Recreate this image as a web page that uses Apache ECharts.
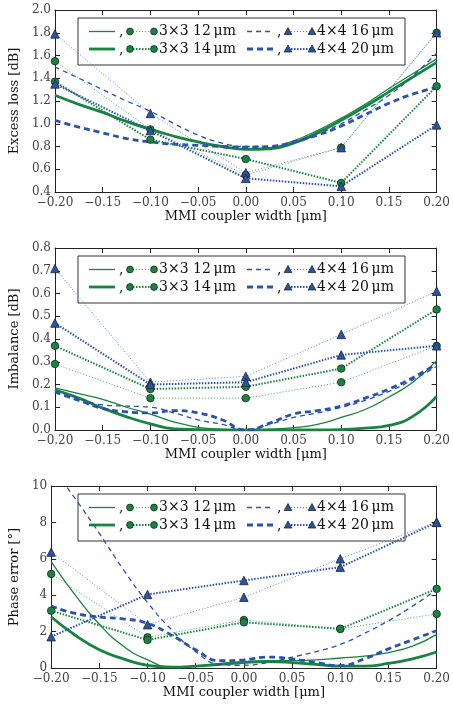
<!DOCTYPE html>
<html>
<head>
<meta charset="UTF-8">
<title>MMI coupler width</title>
<script src="https://cdn.jsdelivr.net/npm/echarts@6/dist/echarts.min.js"></script>
<style>
  html, body { margin: 0; padding: 0; background: #fff; }
  #chart { width: 453px; height: 705px; }
</style>
</head>
<body>
<div id="chart"></div>
<script>
// coupler width offsets [um]
var widths = [-0.2, -0.175, -0.15, -0.125, -0.1, -0.075, -0.05, -0.025, 0, 0.025, 0.05, 0.075, 0.1, 0.125, 0.15, 0.175, 0.2];
var measWidths = [-0.2, -0.1, 0, 0.1, 0.2];
var legendNames = ['3\u00d73 12\u2009\u03bcm', '3\u00d73 14\u2009\u03bcm', '4\u00d74 16\u2009\u03bcm', '4\u00d74 20\u2009\u03bcm'];

// excess loss [dB]
var lossSim12 = [1.25, 1.17, 1.10, 1.02, 0.96, 0.89, 0.84, 0.80, 0.78, 0.79, 0.85, 0.94, 1.05, 1.17, 1.31, 1.44, 1.57];
var lossSim14 = [1.25, 1.17, 1.10, 1.02, 0.95, 0.89, 0.84, 0.80, 0.775, 0.78, 0.83, 0.92, 1.03, 1.15, 1.28, 1.41, 1.54];
var lossSim16 = [1.50, 1.40, 1.30, 1.20, 1.11, 1.00, 0.90, 0.83, 0.80, 0.80, 0.83, 0.91, 1.00, 1.12, 1.25, 1.42, 1.62];
var lossSim20 = [1.03, 0.97, 0.92, 0.87, 0.84, 0.82, 0.81, 0.80, 0.795, 0.80, 0.84, 0.90, 0.98, 1.08, 1.18, 1.26, 1.32];
var lossMeas12 = [1.55, 0.95, 0.55, 0.79, 1.80];
var lossMeas14 = [1.37, 0.86, 0.69, 0.48, 1.33];
var lossMeas16 = [1.79, 1.09, 0.57, 0.79, 1.80];
var lossMeas20 = [1.35, 0.94, 0.52, 0.45, 0.99];

// imbalance [dB]
var imbSim12 = [0.185, 0.16, 0.135, 0.10, 0.07, 0.035, 0.012, 0.003, 0.0, 0.003, 0.01, 0.025, 0.055, 0.09, 0.145, 0.21, 0.305];
var imbSim14 = [0.177, 0.14, 0.096, 0.058, 0.027, 0.005, 0.002, 0.0, 0.0, 0.0, 0.0, 0.0, 0.002, 0.008, 0.02, 0.06, 0.148];
var imbSim16 = [0.17, 0.14, 0.11, 0.105, 0.10, 0.075, 0.045, 0.025, 0.0, 0.025, 0.055, 0.075, 0.10, 0.13, 0.17, 0.22, 0.28];
var imbSim20 = [0.167, 0.13, 0.095, 0.08, 0.075, 0.085, 0.075, 0.045, 0.0, 0.03, 0.07, 0.085, 0.105, 0.14, 0.18, 0.23, 0.29];
var imbMeas12 = [0.29, 0.14, 0.14, 0.21, 0.37];
var imbMeas14 = [0.37, 0.18, 0.19, 0.27, 0.53];
var imbMeas16 = [0.71, 0.21, 0.236, 0.42, 0.61];
var imbMeas20 = [0.47, 0.20, 0.21, 0.33, 0.37];

// phase error [deg]
var phSim12 = [5.85, 4.0, 2.4, 1.2, 0.45, 0.05, 0.1, 0.25, 0.35, 0.4, 0.4, 0.45, 0.55, 0.65, 0.85, 1.2, 1.85];
var phSim14 = [2.8, 1.8, 1.0, 0.5, 0.15, 0.05, 0.1, 0.2, 0.3, 0.35, 0.3, 0.2, 0.1, 0.1, 0.25, 0.5, 0.88];
var phSim16 = [11.1, 9.3, 7.4, 5.4, 3.6, 2.1, 0.9, 0.2, 0.15, 0.3, 0.6, 0.9, 1.3, 1.9, 2.6, 3.4, 4.3];
var phSim20 = [3.4, 3.0, 2.8, 2.7, 2.45, 1.8, 1.0, 0.4, 0.45, 0.6, 0.5, 0.3, 0.13, 0.5, 1.05, 1.55, 2.05];
var phMeas12 = [5.17, 1.69, 2.64, 2.15, 2.97];
var phMeas14 = [3.15, 1.54, 2.51, 2.15, 4.35];
var phMeas16 = [6.37, 2.38, 3.89, 6.0, 8.02];
var phMeas20 = [1.72, 4.04, 4.81, 5.54, 8.0];

var GREEN = '#17853f';
var BLUE = '#2b52ad';
var GREEN_LT = '#4fa56c';
var BLUE_LT = '#5f83cf';
var FONT = 'DejaVu Serif';

var panels = [
  { top: 10, name: 'Excess loss [dB]', min: 0.4, max: 2.0, step: 0.2, dec: 1,
    sim: [lossSim12, lossSim14, lossSim16, lossSim20], meas: [lossMeas12, lossMeas14, lossMeas16, lossMeas20] },
  { top: 248, name: 'Imbalance [dB]', min: 0, max: 0.8, step: 0.1, dec: 1,
    sim: [imbSim12, imbSim14, imbSim16, imbSim20], meas: [imbMeas12, imbMeas14, imbMeas16, imbMeas20] },
  { top: 486, name: 'Phase error [\u00b0]', min: 0, max: 10, step: 2, dec: 0,
    sim: [phSim12, phSim14, phSim16, phSim20], meas: [phMeas12, phMeas14, phMeas16, phMeas20] }
];
var H = 182;

function pairs(xv, yv) {
  return xv.map(function (x, i) { return [x, yv[i]]; });
}

var simStyle = [
  { color: GREEN, width: 1.3, type: 'solid' },
  { color: GREEN, width: 2.8, type: 'solid' },
  { color: BLUE, width: 1.3, type: [5, 4] },
  { color: BLUE, width: 2.8, type: [6, 4] }
];
var measStyle = [
  { color: GREEN_LT, width: 1, type: [1, 2], sym: 'circle', fill: GREEN },
  { color: GREEN, width: 2, type: [1.5, 1.5], sym: 'circle', fill: GREEN },
  { color: BLUE_LT, width: 1, type: [1, 2], sym: 'triangle', fill: BLUE },
  { color: BLUE, width: 2, type: [1.5, 1.5], sym: 'triangle', fill: BLUE }
];

var grids = [], xAxes = [], yAxes = [], series = [], graphics = [];
var lineCol = '#222';
var tickStyle = { show: true, inside: true, length: 5, lineStyle: { color: lineCol } };

panels.forEach(function (p, g) {
  grids.push({ left: 48, right: 15, top: p.top, height: H });
  var xBase = { gridIndex: g, type: 'value', min: -0.2, max: 0.2, interval: 0.05,
    axisLine: { show: true, onZero: false, lineStyle: { color: lineCol } },
    axisTick: tickStyle, splitLine: { show: false } };
  xAxes.push(Object.assign({}, xBase, {
    position: 'bottom',
    name: 'MMI coupler width [\u03bcm]', nameLocation: 'middle', nameGap: 15,
    nameTextStyle: { fontFamily: FONT, fontSize: 13, color: '#111' },
    axisLabel: { margin: 5, fontFamily: FONT, fontSize: 12, color: '#444',
      formatter: function (v) {
        if (Math.abs(v) < 1e-9) return '0.00';
        return v.toFixed(2).replace('-', '\u2212');
      } }
  }));
  xAxes.push(Object.assign({}, xBase, { position: 'top', axisLabel: { show: false } }));
  var yBase = { gridIndex: g, type: 'value', min: p.min, max: p.max, interval: p.step,
    axisLine: { show: true, onZero: false, lineStyle: { color: lineCol } },
    axisTick: tickStyle, splitLine: { show: false } };
  yAxes.push(Object.assign({}, yBase, {
    position: 'left',
    name: p.name, nameLocation: 'middle', nameGap: 26,
    nameTextStyle: { fontFamily: FONT, fontSize: 13, color: '#111' },
    axisLabel: { margin: 4, fontFamily: FONT, fontSize: 12, color: '#444',
      formatter: function (v) { return v.toFixed(p.dec); } }
  }));
  yAxes.push(Object.assign({}, yBase, { position: 'right', axisLabel: { show: false } }));

  var xi = g * 2, yi = g * 2;
  p.meas.forEach(function (m, k) {
    var s = measStyle[k];
    series.push({
      type: 'line', xAxisIndex: xi, yAxisIndex: yi,
      data: pairs(measWidths, m),
      symbol: s.sym, symbolSize: s.sym === 'circle' ? 7.5 : 8.5,
      showSymbol: true,
      lineStyle: { color: s.color, width: s.width, type: s.type },
      itemStyle: { color: s.fill, borderColor: '#1b2a22', borderWidth: 0.8 },
      z: 3, silent: true, animation: false
    });
  });
  p.sim.forEach(function (d, k) {
    var s = simStyle[k];
    series.push({
      type: 'line', xAxisIndex: xi, yAxisIndex: yi,
      data: pairs(widths, d), smooth: 0.5, showSymbol: false, symbol: 'none',
      lineStyle: { color: s.color, width: s.width, type: s.type },
      z: 2, silent: true, animation: false
    });
  });

  // legend box
  var T = p.top + 8;
  var r1 = T + 13.5, r2 = T + 31;
  var els = [];
  els.push({ type: 'rect', shape: { x: 78, y: T, width: 327, height: 47 },
    style: { fill: '#fff', stroke: '#333', lineWidth: 1 } });
  [[r1, 0, 2], [r2, 1, 3]].forEach(function (row) {
    var y = row[0];
    [[row[1], 89, 'circle'], [row[2], 247, 'triangle']].forEach(function (it) {
      var k = it[0], x0 = it[1];
      var ss = simStyle[k], ms = measStyle[k];
      els.push({ type: 'line', shape: { x1: x0, y1: y, x2: x0 + 26, y2: y },
        style: { stroke: ss.color, lineWidth: ss.width, lineDash: ss.type === 'solid' ? null : ss.type } });
      els.push({ type: 'text', style: { text: ',', x: x0 + 30, y: y + 1, font: '14px ' + FONT, fill: '#111', verticalAlign: 'middle' } });
      els.push({ type: 'line', shape: { x1: x0 + 41, y1: y, x2: x0 + 65, y2: y },
        style: { stroke: ms.color, lineWidth: ms.width, lineDash: ms.type } });
      [x0 + 41, x0 + 65].forEach(function (cx) {
        if (it[2] === 'circle') {
          els.push({ type: 'circle', shape: { cx: cx, cy: y, r: 3.4 },
            style: { fill: ms.fill, stroke: '#1b2a22', lineWidth: 0.8 } });
        } else {
          els.push({ type: 'polygon', shape: { points: [[cx, y - 4], [cx + 3.8, y + 3], [cx - 3.8, y + 3]] },
            style: { fill: ms.fill, stroke: '#1b2a22', lineWidth: 0.8 } });
        }
      });
      els.push({ type: 'text', style: { text: legendNames[k], x: x0 + 70, y: y, font: '14px ' + FONT, fill: '#111', verticalAlign: 'middle' } });
    });
  });
  graphics.push({ type: 'group', z: 100, silent: true, children: els });
});

var chart = echarts.init(document.getElementById('chart'), null, { renderer: 'canvas' });
chart.setOption({
  animation: false,
  backgroundColor: '#fff',
  grid: grids,
  xAxis: xAxes,
  yAxis: yAxes,
  series: series,
  graphic: graphics
});
</script>
</body>
</html>
